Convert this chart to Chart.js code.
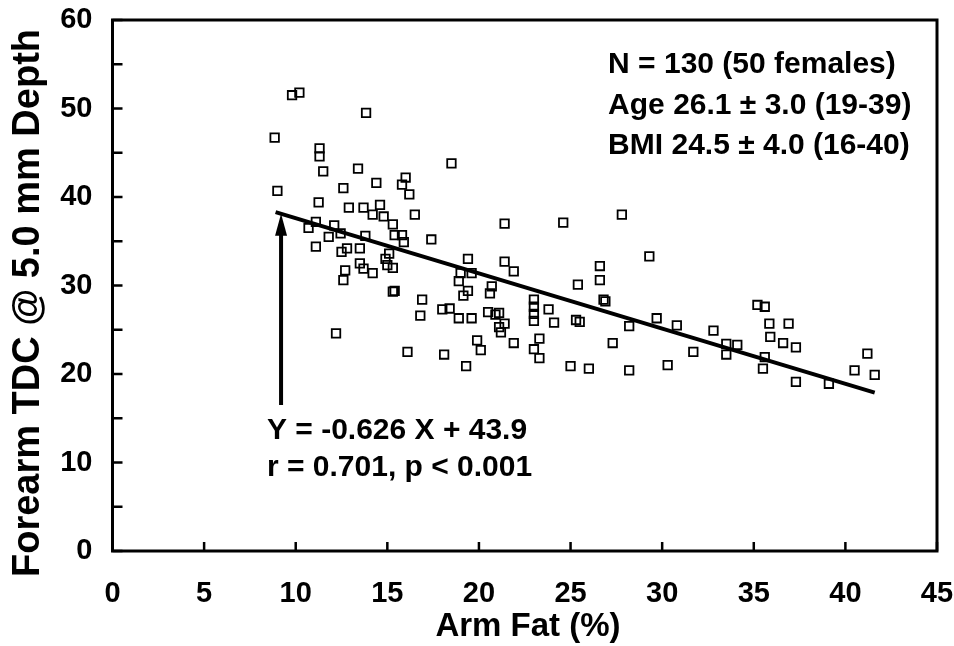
<!DOCTYPE html>
<html>
<head>
<meta charset="utf-8">
<script src="https://cdn.jsdelivr.net/npm/chart.js@4.4.1/dist/chart.umd.min.js"></script>
<style>
  html, body { margin: 0; padding: 0; background: #fff; }
  #wrap { width: 954px; height: 646px; position: relative; }
</style>
</head>
<body>
<div id="wrap"><canvas id="tdcChart"></canvas></div>
<script>
// arm fat (%) vs forearm TDC
const armFat = [
  9.8, 10.2, 8.85, 11.3, 11.3, 11.5, 9.0, 12.6, 11.25, 10.7,
  11.1, 12.1, 11.8, 12.45, 11.1, 12.5, 12.8, 12.7, 12.6, 13.84,
  13.4, 18.5, 14.4, 16.0, 15.8, 16.2, 12.9, 13.7, 14.6, 14.2,
  14.8, 15.3, 16.5, 13.8, 15.4, 15.8, 15.9, 17.4, 13.5, 15.1,
  14.9, 15.0, 15.3, 13.5, 13.7, 14.2, 15.3, 15.4, 19.4, 19.0,
  19.6, 18.9, 19.4, 19.15, 20.7, 20.6, 16.9, 16.8, 18.0, 18.4,
  18.9, 19.6, 20.5, 20.9, 21.1, 21.1, 21.2, 21.4, 19.9, 20.1,
  12.2, 16.1, 18.1, 19.3, 21.4, 24.6, 27.8, 29.3, 21.4, 21.9,
  26.6, 26.6, 25.4, 23.0, 23.0, 23.0, 23.0, 23.8, 24.1, 26.8,
  26.9, 25.3, 25.5, 21.9, 23.3, 23.0, 23.3, 25.0, 26.0, 27.3,
  28.2, 28.2, 29.7, 30.8, 30.3, 31.7, 32.8, 33.5, 33.5, 34.1,
  35.2, 35.6, 35.85, 36.9, 35.9, 36.6, 37.3, 35.6, 35.5, 37.3,
  39.1, 40.5, 41.2, 41.6
];
const tdc = [
  51.5, 51.8, 46.7, 45.5, 44.6, 42.9, 40.7, 41.0, 39.4, 36.5,
  37.2, 36.8, 35.5, 35.9, 34.4, 33.8, 34.2, 31.7, 30.6, 49.5,
  43.2, 43.8, 41.6, 42.2, 41.4, 40.3, 38.8, 38.8, 39.1, 38.0,
  37.8, 36.9, 38.0, 35.6, 35.7, 35.7, 34.9, 35.2, 34.2, 33.6,
  33.0, 32.3, 32.0, 32.5, 31.9, 31.4, 29.3, 29.4, 33.0, 31.4,
  31.4, 30.5, 29.4, 28.85, 29.9, 29.1, 28.4, 26.6, 27.3, 27.4,
  26.3, 26.3, 27.0, 26.7, 26.9, 25.3, 24.7, 25.7, 23.8, 22.7,
  24.6, 22.5, 22.2, 20.9, 37.0, 37.1, 38.0, 33.3, 32.7, 31.6,
  32.2, 30.6, 30.1, 28.4, 27.6, 26.8, 26.0, 27.3, 25.8, 28.4,
  28.2, 26.1, 25.9, 23.5, 24.0, 22.8, 21.8, 20.9, 20.6, 23.5,
  25.4, 20.4, 26.3, 25.5, 21.0, 22.5, 24.9, 23.4, 22.2, 23.3,
  27.8, 27.6, 25.7, 25.7, 24.2, 23.5, 23.0, 21.9, 20.6, 19.1,
  18.9, 20.4, 22.3, 19.9
];

// regression line ends and the arrow, as seen in the figure
const fitX = [8.9, 41.6];
const fitY = [38.3, 17.9];
const arrowX = [9.2, 9.2];
const arrowY = [16.5, 38.1];

const xTitle = 'Arm Fat (%)';
const yTitle = 'Forearm TDC @ 5.0 mm Depth';
const statsText = ['N = 130 (50 females)', 'Age 26.1 \u00b1 3.0 (19-39)', 'BMI 24.5 \u00b1 4.0 (16-40)'];
const fitText = ['Y = -0.626 X + 43.9', 'r = 0.701, p < 0.001'];

const FONT = '"Liberation Sans", Arial, Helvetica, sans-serif';

const points = armFat.map((x, i) => ({ x: x, y: tdc[i] }));
const fitLine = fitX.map((x, i) => ({ x: x, y: fitY[i] }));

const framePlugin = {
  id: 'frame',
  afterDraw(chart) {
    const ctx = chart.ctx;
    const a = chart.chartArea;
    const xs = chart.scales.x, ys = chart.scales.y;
    ctx.save();
    ctx.strokeStyle = '#000';
    ctx.fillStyle = '#000';

    // inward tick marks
    ctx.lineWidth = 2.5;
    ctx.beginPath();
    xs.ticks.forEach(t => {
      const px = xs.getPixelForValue(t.value);
      ctx.moveTo(px, a.bottom);
      ctx.lineTo(px, a.bottom - 9);
    });
    ys.ticks.forEach(t => {
      const py = ys.getPixelForValue(t.value);
      ctx.moveTo(a.left, py);
      ctx.lineTo(a.left + 10, py);
    });
    ctx.stroke();

    // box
    ctx.lineWidth = 3;
    ctx.strokeRect(a.left, a.top, a.right - a.left, a.bottom - a.top);

    // arrow
    const ax = xs.getPixelForValue(arrowX[0]);
    const ay0 = ys.getPixelForValue(arrowY[0]);
    const ay1 = ys.getPixelForValue(arrowY[1]);
    ctx.lineWidth = 4;
    ctx.beginPath();
    ctx.moveTo(ax, ay0);
    ctx.lineTo(ax, ay1 + 18);
    ctx.stroke();
    ctx.beginPath();
    ctx.moveTo(ax, ay1);
    ctx.lineTo(ax - 6, ay1 + 22);
    ctx.lineTo(ax + 6, ay1 + 22);
    ctx.closePath();
    ctx.fill();

    // text blocks
    ctx.font = 'bold 30px ' + FONT;
    ctx.textAlign = 'left';
    ctx.textBaseline = 'alphabetic';
    const sx = xs.getPixelForValue(27.05);
    const sy = ys.getPixelForValue(54.0);
    statsText.forEach((s, i) => ctx.fillText(s, sx, sy + i * 40.5));

    const fx = xs.getPixelForValue(8.43);
    const fy = ys.getPixelForValue(12.65);
    fitText.forEach((s, i) => ctx.fillText(s, fx, fy + i * 37));

    // axis titles
    ctx.textAlign = 'center';
    ctx.textBaseline = 'middle';
    ctx.font = 'bold 33px ' + FONT;
    ctx.fillText(xTitle, 528, 627);
    ctx.save();
    ctx.translate(29, 303);
    ctx.rotate(-Math.PI / 2);
    ctx.font = 'bold 38px ' + FONT;
    ctx.fillText(yTitle, 0, 0);
    ctx.restore();

    ctx.restore();
  }
};

const ctx = document.getElementById('tdcChart').getContext('2d');

const config = {
  type: 'scatter',
  data: {
    datasets: [
      {
        data: points,
        pointStyle: 'rect',
        pointRadius: 6,
        pointBorderWidth: 1.8,
        pointBorderColor: '#000',
        pointBackgroundColor: 'rgba(255,255,255,0)',
        showLine: false
      },
      {
        type: 'line',
        data: fitLine,
        borderColor: '#000',
        borderWidth: 4,
        pointRadius: 0,
        fill: false
      }
    ]
  },
  options: {
    responsive: true,
    maintainAspectRatio: false,
    animation: false,
    layout: { padding: { top: 20, right: 17, left: 0, bottom: 0 } },
    plugins: { legend: { display: false }, tooltip: { enabled: false } },
    scales: {
      x: {
        type: 'linear',
        min: 0,
        max: 45,
        afterFit: (s) => { s.height = 95; s.paddingLeft = 0; s.paddingRight = 0; },
        grid: { display: false },
        border: { display: false },
        ticks: {
          stepSize: 5,
          color: '#000',
          padding: 18,
          maxRotation: 0,
          font: { family: FONT, size: 29, weight: 'bold' }
        }
      },
      y: {
        min: 0,
        max: 60,
        afterFit: (s) => { s.width = 112.5; s.paddingTop = 0; s.paddingBottom = 0; },
        grid: { display: false },
        border: { display: false },
        ticks: {
          stepSize: 5,
          color: '#000',
          padding: 12,
          font: { family: FONT, size: 29, weight: 'bold' },
          callback: (v) => (v % 10 === 0 ? v : '')
        }
      }
    }
  },
  plugins: [framePlugin]
};

new Chart(ctx, config);
</script>
</body>
</html>
